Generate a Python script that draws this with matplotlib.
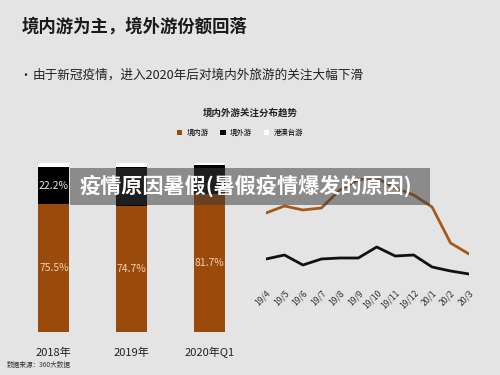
import matplotlib.pyplot as plt
from matplotlib.patches import Patch, Rectangle

plt.rcParams['font.family'] = ['Noto Sans CJK SC', 'DejaVu Sans']

# bar chart data (share of attention, %)
YEARS = ["2018年", "2019年", "2020年Q1"]
DOMESTIC = [75.5, 74.7, 81.7]
OUTBOUND = [22.2, 22.9, 17.3]
HMT = [2.3, 2.4, 1.0]
BAR_LABELS = ["75.5%", "74.7%", "81.7%"]

# monthly trend (attention index)
MONTHS = ["19/4", "19/5", "19/6", "19/7", "19/8", "19/9",
          "19/10", "19/11", "19/12", "20/1", "20/2", "20/3"]
DOMESTIC_TREND = [67, 74, 70, 72, 90, 100, 102, 92, 85, 73, 37, 26]
OUTBOUND_TREND = [21, 25, 15, 21, 22, 22, 33, 24, 25, 13, 9, 6]

BG = "#e4e4e4"
BROWN = "#9a4a0a"
LINE_BROWN = "#a35a1c"

W, H = 500, 375


def fx(px):
    return px / W


def fy(py):
    return 1 - py / H


fig = plt.figure(figsize=(5, 3.75), dpi=100, facecolor=BG)

fig.text(fx(22), fy(27), "境内游为主，境外游份额回落", fontsize=12.5,
         fontweight="bold", color="#1a1a1a", va="center")
fig.text(fx(19), fy(75), "•", fontsize=8.7, color="#222222", va="center")
fig.text(fx(33), fy(75), "由于新冠疫情，进入2020年后对境内外旅游的关注大幅下滑",
         fontsize=9.1, color="#222222", va="center")

fig.text(fx(250), fy(113), "境内外游关注分布趋势", fontsize=6.8,
         fontweight="bold", color="#222222", ha="center", va="center")
handles = [Patch(facecolor=BROWN, label="境内游"),
           Patch(facecolor="black", label="境外游"),
           Patch(facecolor="white", label="港澳台游")]
fig.legend(handles=handles, loc="center", bbox_to_anchor=(fx(240), fy(133)),
           ncol=3, frameon=False, fontsize=5.3, handlelength=0.7,
           handleheight=0.7, handletextpad=0.6, columnspacing=1.6)

# stacked bars
ax1 = fig.add_axes([fx(15), fy(332), fx(248) - fx(15), fy(163) - fy(332)])
ax1.set_facecolor("none")
x = range(len(YEARS))
ax1.bar(x, DOMESTIC, width=0.4, color=BROWN)
ax1.bar(x, OUTBOUND, width=0.4, bottom=DOMESTIC, color="black")
tops = [d + o for d, o in zip(DOMESTIC, OUTBOUND)]
ax1.bar(x, HMT, width=0.4, bottom=tops, color="white")
for i, lab in enumerate(BAR_LABELS):
    ax1.text(i, DOMESTIC[i] / 2, lab, ha="center", va="center",
             fontsize=7.5, color="#f3d2b0")
ax1.text(0, DOMESTIC[0] + OUTBOUND[0] / 2, "22.2%", ha="center",
         va="center", fontsize=7.5, color="#e8e8e8")
ax1.set_xlim(-0.5, 2.5)
ax1.set_ylim(0, 100)
ax1.set_xticks(list(x))
ax1.set_xticklabels(YEARS, fontsize=8, color="#222222")
ax1.tick_params(axis="x", length=0, pad=11)
ax1.set_yticks([])
for s in ax1.spines.values():
    s.set_visible(False)

# trend lines
ax2 = fig.add_axes([fx(266), fy(280), fx(469) - fx(266), fy(160) - fy(280)])
ax2.set_facecolor("none")
xm = range(len(MONTHS))
ax2.plot(xm, DOMESTIC_TREND, color=LINE_BROWN, lw=2,
         solid_joinstyle="round", solid_capstyle="round")
ax2.plot(xm, OUTBOUND_TREND, color="#111111", lw=2,
         solid_joinstyle="round", solid_capstyle="round")
ax2.set_xlim(0, 11)
ax2.set_ylim(0, 120)
ax2.set_xticks(list(xm))
ax2.set_xticklabels(MONTHS, fontsize=6.2, rotation=45, ha="right",
                    va="top", rotation_mode="anchor", color="#333333")
ax2.tick_params(axis="x", length=0, pad=6)
ax2.set_yticks([])
for s in ax2.spines.values():
    s.set_visible(False)

fig.text(fx(7), fy(365), "数据来源：360大数据", fontsize=4.8,
         color="#333333", va="center")

# overlay banner
fig.patches.append(Rectangle((fx(70), fy(205)), fx(430) - fx(70),
                             fy(168) - fy(205), transform=fig.transFigure,
                             facecolor="#3a3a3a", alpha=0.52, zorder=5))
fig.text(fx(246), fy(186), "疫情原因暑假(暑假疫情爆发的原因)", fontsize=15.2,
         fontweight="bold", color="white", ha="center", va="center",
         zorder=6)

fig.savefig("out.png", dpi=100, facecolor=BG)
